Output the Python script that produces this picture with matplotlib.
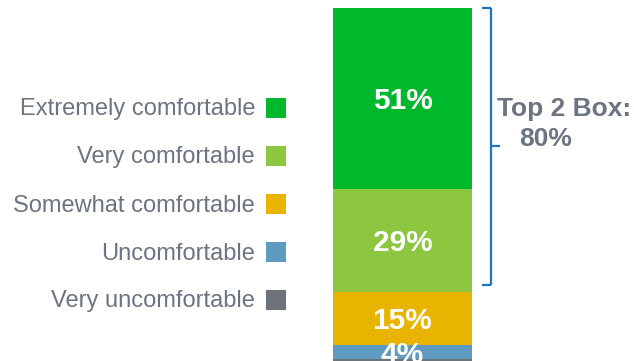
import matplotlib.pyplot as plt
from matplotlib.lines import Line2D
from matplotlib.patches import Rectangle
from matplotlib import transforms

plt.rcParams['font.family'] = ['Liberation Sans', 'DejaVu Sans']

# stacked from bottom to top
categories = ["Very uncomfortable", "Uncomfortable", "Somewhat comfortable",
              "Very comfortable", "Extremely comfortable"]
values = [1, 4, 15, 29, 51]
colors = ["#6D737B", "#5F9BC0", "#E8B400", "#8DC63F", "#00B82B"]
top2_label = "Top 2 Box:"
top2_value = "80%"

W, H = 634, 361
fig = plt.figure(figsize=(W / 100, H / 100), dpi=100)

# bar axes, in pixels: x 333..472, y (from top) 8..362.5
bar_left, bar_right = 333, 472
bar_top, bar_bottom = 8, 362.5
ax = fig.add_axes([bar_left / W, (H - bar_bottom) / H,
                   (bar_right - bar_left) / W, (bar_bottom - bar_top) / H])
ax.set_xlim(-0.5, 0.5)
ax.set_ylim(0, 100)
ax.axis("off")

bottom = 0
for cat, val, col in zip(categories, values, colors):
    ax.bar(0, val, width=1, bottom=bottom, color=col, linewidth=0, clip_on=False)
    if val >= 3:
        ax.text(0, bottom + val / 2 - 0.8, f"{val}%", ha="center", va="center",
                color="white", fontsize=21.5, fontweight="bold")
    bottom += val

# legend on the left, top entry first
text_color = "#6B7480"
for i, (cat, col) in enumerate(zip(categories[::-1], colors[::-1])):
    yc = 108 + 48 * i
    fig.text(255 / W, 1 - (yc + 1.5) / H, cat, ha="right", va="center",
             fontsize=17, color=text_color)
    fig.patches.append(Rectangle((266 / W, 1 - (yc + 10) / H), 20 / W, 20 / H,
                                 transform=fig.transFigure, facecolor=col,
                                 edgecolor="none"))

# bracket for the top 2 boxes
trans = transforms.blended_transform_factory(ax.transAxes, ax.transData)
top_val = sum(values)
low_val = sum(values[:3]) + 2
mid_val = (top_val + low_val) / 2
bcol = "#1F74C4"
xv, xt, xm = 1.137, 1.072, 1.205
for xs, ys in [([xt, xv], [top_val, top_val]),
               ([xv, xv], [low_val, top_val]),
               ([xt, xv], [low_val, low_val]),
               ([xv, xm], [mid_val, mid_val])]:
    ax.add_line(Line2D(xs, ys, transform=trans, color=bcol, linewidth=1.6,
                       clip_on=False, solid_capstyle="butt"))

fig.text(497 / W, 1 - 109 / H, top2_label, ha="left", va="center",
         fontsize=19, fontweight="bold", color=text_color)
fig.text(519 / W, 1 - 139 / H, top2_value, ha="left", va="center",
         fontsize=19, fontweight="bold", color=text_color)

fig.savefig("out.png", dpi=100)
